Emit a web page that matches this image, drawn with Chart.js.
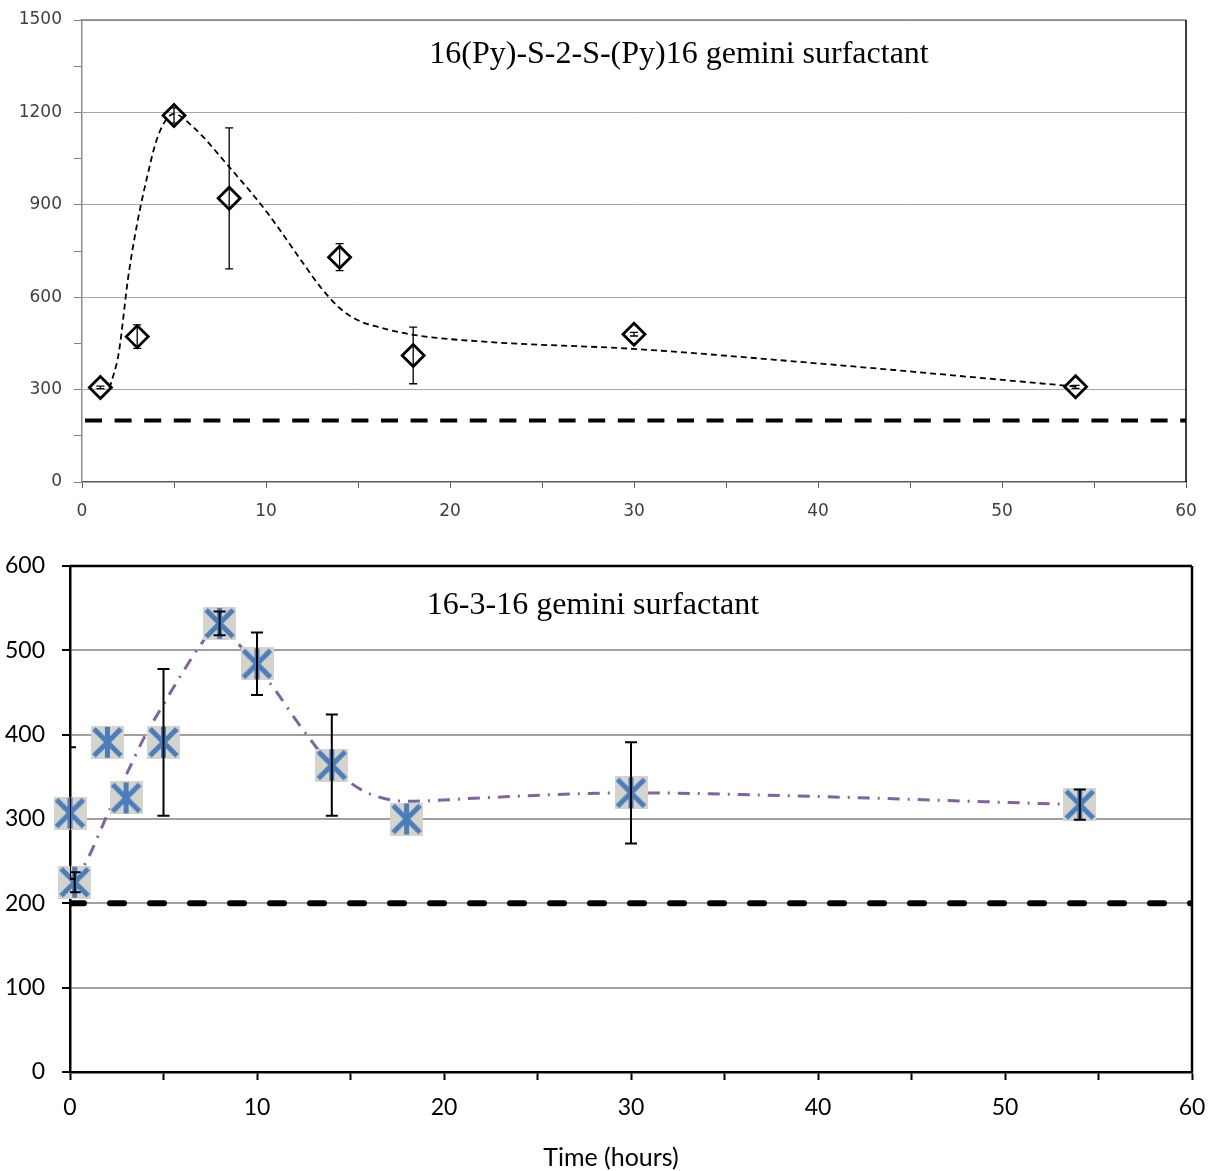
<!DOCTYPE html>
<html>
<head>
<meta charset="utf-8">
<script src="https://cdn.jsdelivr.net/npm/chart.js@4.4.0/dist/chart.umd.min.js"></script>
<style>
  body { margin: 0; background: #fff; }
  canvas { display: block; }
</style>
</head>
<body>
<canvas id="topChart" width="1209" height="540"></canvas>
<canvas id="bottomChart" width="1209" height="631"></canvas>
<script>
// tick labels
var xTickLabels = [0, 10, 20, 30, 40, 50, 60];
var topYTicks = [0, 300, 600, 900, 1200, 1500];
var bottomYTicks = [0, 100, 200, 300, 400, 500, 600];
var baseline = 200;

// 16(Py)-S-2-S-(Py)16 measurements
var topHours = [1, 3, 5, 8, 14, 18, 30, 54];
var topValues = [307, 472, 1190, 921, 730, 411, 480, 309];
var topErrors = [4, 38, 25, 229, 44, 92, 6, 5];
// trend curve
var topFitHours = [1.5, 2, 2.5, 3, 3.5, 4, 4.5, 5, 6, 8, 10, 12, 13, 14, 15, 16, 18, 22, 30, 40, 54];
var topFitValues = [305, 420, 660, 840, 980, 1100, 1170, 1195, 1155, 1023, 880, 712, 630, 565, 525, 505, 478, 455, 432, 385, 310];

// 16-3-16 measurements
var bottomHours = [0, 0.25, 2, 3, 5, 8, 10, 14, 18, 30, 54];
var bottomValues = [307, 225, 391, 325, 391, 532, 484, 364, 300, 331, 317];
var bottomErrors = [78, 12, 0, 0, 87, 14, 37, 60, 0, 60, 18];
var bottomFitHours = [0.25, 1, 2, 3, 4, 5, 6, 7, 8, 9, 10, 11, 12, 13, 14, 15, 16, 18, 22, 26, 30, 34, 54];
var bottomFitValues = [225, 255, 305, 352, 398, 436, 473, 507, 534, 508, 481, 452, 420, 390, 362, 343, 330, 321, 325, 329, 331, 330, 317];

function pts(xs, ys) {
  return xs.map(function(x, i) { return {x: x, y: ys[i]}; });
}

function makeStarMarker() {
  var c = document.createElement('canvas');
  c.width = 33; c.height = 33;
  var g = c.getContext('2d');
  g.fillStyle = '#d4d4cc';
  g.fillRect(0, 0, 33, 33);
  g.strokeStyle = '#4a7ebb';
  g.lineWidth = 5;
  g.beginPath();
  g.moveTo(16.5, 1); g.lineTo(16.5, 32);
  g.moveTo(3, 3); g.lineTo(30, 30);
  g.moveTo(30, 3); g.lineTo(3, 30);
  g.stroke();
  return c;
}

var errorBars = {
  id: 'errorBars',
  afterDatasetsDraw: function(chart) {
    var ctx = chart.ctx, a = chart.chartArea;
    var xs = chart.scales.x, ys = chart.scales.y;
    ctx.save();
    ctx.beginPath();
    ctx.rect(a.left, a.top, a.right - a.left, a.bottom - a.top);
    ctx.clip();
    chart.data.datasets.forEach(function(ds) {
      if (!ds.errors) return;
      ctx.strokeStyle = '#000';
      ctx.lineWidth = ds.errorWidth;
      ds.data.forEach(function(p, i) {
        var e = ds.errors[i];
        if (!e) return;
        var x = xs.getPixelForValue(p.x);
        var y1 = ys.getPixelForValue(p.y + e);
        var y2 = ys.getPixelForValue(p.y - e);
        var h = ds.capHalf;
        ctx.beginPath();
        ctx.moveTo(x, y1); ctx.lineTo(x, y2);
        ctx.moveTo(x - h, y1); ctx.lineTo(x + h, y1);
        ctx.moveTo(x - h, y2); ctx.lineTo(x + h, y2);
        ctx.stroke();
      });
    });
    ctx.restore();
  }
};

var frame = {
  id: 'frame',
  afterDraw: function(chart, args, opts) {
    var ctx = chart.ctx, a = chart.chartArea;
    ctx.save();
    ctx.lineWidth = opts.width;
    ctx.strokeStyle = opts.topColor;
    ctx.beginPath(); ctx.moveTo(a.left, a.top); ctx.lineTo(a.right, a.top); ctx.stroke();
    ctx.strokeStyle = opts.rightColor;
    ctx.beginPath(); ctx.moveTo(a.right, a.top); ctx.lineTo(a.right, a.bottom); ctx.stroke();
    ctx.fillStyle = '#000';
    ctx.textAlign = 'center';
    ctx.textBaseline = 'middle';
    ctx.font = opts.titleFont;
    ctx.fillText(opts.title, opts.titleX, opts.titleY);
    if (opts.xLabel) {
      ctx.font = opts.xLabelFont;
      ctx.fillText(opts.xLabel, opts.xLabelX, opts.xLabelY);
    }
    ctx.restore();
  }
};

function fixX(h) {
  return function(s) { s.height = h; s.paddingLeft = 0; s.paddingRight = 0; };
}
function fixY(w) {
  return function(s) { s.width = w; s.paddingTop = 0; s.paddingBottom = 0; };
}

var topFont = {family: 'DejaVu Sans', size: 17};

new Chart(document.getElementById('topChart'), {
  type: 'scatter',
  data: {
    datasets: [
      {
        data: pts(topHours, topValues),
        errors: topErrors, errorWidth: 1.3, capHalf: 4,
        pointStyle: 'rectRot', pointRadius: 11, pointBorderWidth: 2.8,
        pointBorderColor: '#000', pointBackgroundColor: 'rgba(0,0,0,0)',
        showLine: false, order: 1
      },
      {
        data: pts(topFitHours, topFitValues),
        showLine: true, borderColor: '#000', borderWidth: 1.8, borderDash: [6, 4],
        pointRadius: 0, cubicInterpolationMode: 'monotone', order: 2
      },
      {
        data: [{x: 0, y: baseline}, {x: 60, y: baseline}],
        showLine: true, borderColor: '#000', borderWidth: 4, borderDash: [17, 12.6],
        borderDashOffset: -3, pointRadius: 0, order: 3
      }
    ]
  },
  options: {
    responsive: false,
    animation: false,
    events: [],
    layout: {padding: {top: 20, right: 23, left: 0, bottom: 0}},
    plugins: {
      legend: {display: false},
      tooltip: {enabled: false},
      frame: {width: 1.5, topColor: '#7f7f7f', rightColor: '#000',
        title: '16(Py)-S-2-S-(Py)16 gemini surfactant',
        titleFont: '32px "Liberation Serif"', titleX: 679, titleY: 55}
    },
    scales: {
      x: {
        type: 'linear', min: 0, max: 60,
        afterFit: fixX(58),
        ticks: {stepSize: 5, autoSkip: false, maxRotation: 0, padding: 13, color: '#404040', font: topFont,
          callback: function(v) { return xTickLabels.indexOf(v) >= 0 ? v : ''; }},
        grid: {drawOnChartArea: false, tickLength: 6, tickColor: '#595959'},
        border: {color: '#595959', width: 1.5}
      },
      y: {
        min: 0, max: 1500,
        afterFit: fixY(82),
        ticks: {stepSize: 150, autoSkip: false, padding: 12, color: '#404040', font: topFont,
          callback: function(v) { return topYTicks.indexOf(v) >= 0 ? v : ''; }},
        grid: {
          color: function(c) {
            return c.tick && c.tick.value > 0 && topYTicks.indexOf(c.tick.value) >= 0 ? '#a6a6a6' : 'rgba(0,0,0,0)';
          },
          tickColor: '#808080', tickLength: 8
        },
        border: {color: '#8c8c8c', width: 1.5}
      }
    }
  },
  plugins: [errorBars, frame]
});

var bottomFont = {family: 'Lato', size: 23};

new Chart(document.getElementById('bottomChart'), {
  type: 'scatter',
  data: {
    datasets: [
      {
        data: pts(bottomHours, bottomValues),
        errors: bottomErrors, errorWidth: 2, capHalf: 6,
        pointStyle: makeStarMarker(), pointRadius: 16,
        showLine: false, clip: false, order: 1
      },
      {
        data: pts(bottomFitHours, bottomFitValues),
        showLine: true, borderColor: '#8064a2', borderWidth: 3, borderDash: [12, 8, 2, 8],
        pointRadius: 0, cubicInterpolationMode: 'monotone', order: 2
      },
      {
        data: [{x: 0, y: baseline}, {x: 60, y: baseline}],
        showLine: true, borderColor: '#000', borderWidth: 6, borderDash: [14, 26],
        borderCapStyle: 'round', pointRadius: 0, order: 3
      }
    ]
  },
  options: {
    responsive: false,
    animation: false,
    events: [],
    layout: {padding: {top: 26, right: 17, left: 0, bottom: 0}},
    plugins: {
      legend: {display: false},
      tooltip: {enabled: false},
      frame: {width: 2.5, topColor: '#000', rightColor: '#000',
        title: '16-3-16 gemini surfactant',
        titleFont: '32px "Liberation Serif"', titleX: 593, titleY: 66,
        xLabel: 'Time (hours)', xLabelFont: '25px Lato', xLabelX: 611, xLabelY: 618}
    },
    scales: {
      x: {
        type: 'linear', min: 0, max: 60,
        afterFit: fixX(99),
        ticks: {stepSize: 5, autoSkip: false, maxRotation: 0, padding: 14, color: '#000', font: bottomFont,
          callback: function(v) { return xTickLabels.indexOf(v) >= 0 ? v : ''; }},
        grid: {drawOnChartArea: false, tickLength: 8, tickColor: '#000', tickWidth: 2},
        border: {color: '#000', width: 2.5}
      },
      y: {
        min: 0, max: 600,
        afterFit: fixY(70),
        ticks: {stepSize: 100, autoSkip: false, padding: 17, color: '#000', font: bottomFont,
          callback: function(v) { return bottomYTicks.indexOf(v) >= 0 ? v : ''; }},
        grid: {
          color: function(c) {
            return c.tick && c.tick.value > 0 && c.tick.value < 600 ? '#a0a0a0' : 'rgba(0,0,0,0)';
          },
          lineWidth: 2, tickColor: '#000', tickLength: 8, tickWidth: 2
        },
        border: {color: '#000', width: 2.5}
      }
    }
  },
  plugins: [errorBars, frame]
});
</script>
</body>
</html>
